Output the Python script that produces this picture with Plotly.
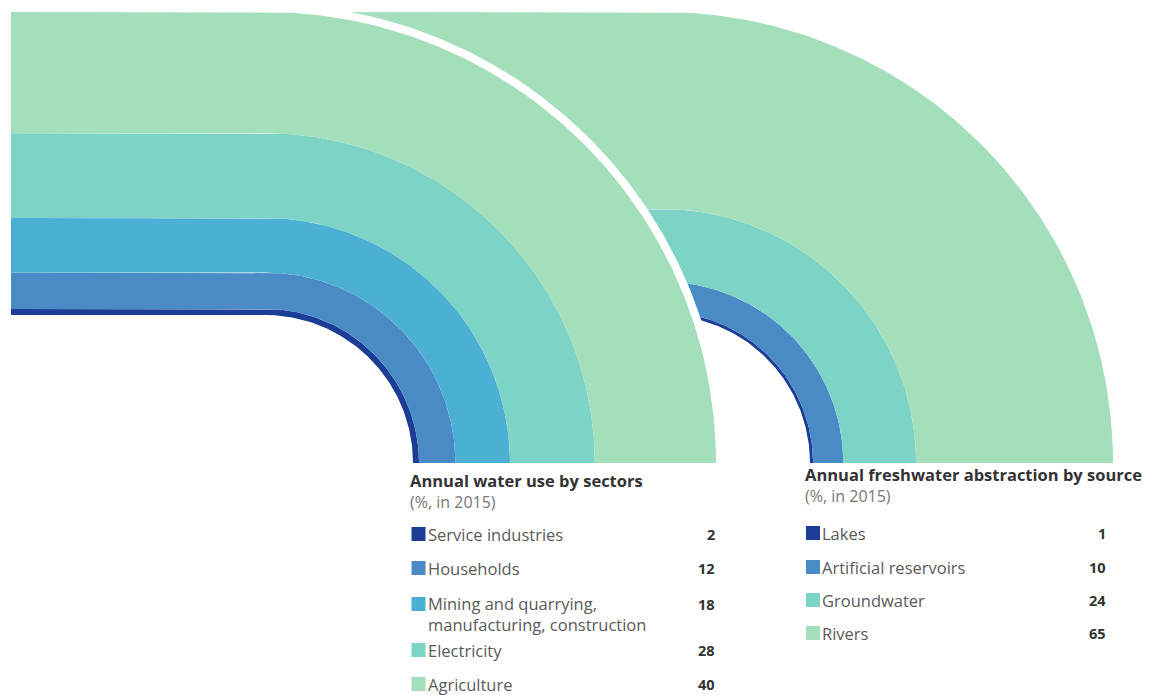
import numpy as np
import plotly.graph_objects as go

# ---------------- data ----------------
sector_labels = ["Service industries", "Households",
                 "Mining and quarrying,<br>manufacturing, construction",
                 "Electricity", "Agriculture"]
sector_values = [2, 12, 18, 28, 40]

source_labels = ["Lakes", "Artificial reservoirs", "Groundwater", "Rivers"]
source_values = [1, 10, 24, 65]

palette5 = ["#1c3d96", "#4a8bc6", "#4cafd4", "#7dd3c6", "#a3dfba"]
palette4 = ["#1c3d96", "#4a8bc6", "#7dd3c6", "#a3dfba"]

# ---------------- geometry (layout) ----------------
W, H = 1151, 695
CY = 463
R_IN = 148
BAND = 303          # pixels for 100 %
LEFT_CX = 265
RIGHT_CX = 662
LEFT_X0 = 11
GAP = 8


def band_polygon(cx, r1, r2, x0, n=120):
    th = np.linspace(np.pi / 2, 0, n)
    xs = [x0, cx]
    ys = [CY - r2, CY - r2]
    xs += list(cx + r2 * np.cos(th))
    ys += list(CY - r2 * np.sin(th))
    th2 = th[::-1]
    xs += list(cx + r1 * np.cos(th2))
    ys += list(CY - r1 * np.sin(th2))
    xs += [cx, x0, x0]
    ys += [CY - r1, CY - r1, CY - r2]
    return xs, ys


def add_ring(fig, cx, values, colors, x0):
    cum = np.cumsum([0] + list(values)) / 100.0
    for i, v in enumerate(values):
        r1 = R_IN + cum[i] * BAND
        r2 = R_IN + cum[i + 1] * BAND
        xs, ys = band_polygon(cx, r1, r2, x0)
        fig.add_trace(go.Scatter(x=xs, y=ys, mode="lines", fill="toself",
                                 fillcolor=colors[i], line=dict(width=0, color=colors[i]),
                                 hoverinfo="skip", showlegend=False))


fig = go.Figure()

# right ring (behind)
add_ring(fig, RIGHT_CX, source_values, palette4, LEFT_CX)

# white gap around left ring
xs, ys = band_polygon(LEFT_CX, R_IN - 2, R_IN + BAND + GAP, LEFT_X0)
fig.add_trace(go.Scatter(x=xs, y=ys, mode="lines", fill="toself", fillcolor="white",
                         line=dict(width=0, color="white"), hoverinfo="skip", showlegend=False))

# left ring (front)
add_ring(fig, LEFT_CX, sector_values, palette5, LEFT_X0)

# ---------------- legends ----------------
FONT = "Open Sans"
annotations = []


def legend_block(x_title, x_sq, x_txt, x_val, y_head, ys, labels, values, colors, title):
    head = ("<b>" + title + "</b><br>"
            "<span style='color:#777777;font-size:16px'>(%, in 2015)</span>")
    annotations.append(dict(x=x_title, y=y_head, text=head, showarrow=False,
                            xanchor="left", yanchor="middle", align="left",
                            font=dict(family=FONT, size=16.5, color="#333333")))
    for lab, val, yc in zip(labels, values, ys):
        nlines = lab.count("<br>") + 1
        ymid = yc + (nlines - 1) * 9.5
        annotations.append(dict(x=x_txt, y=ymid, text=lab, showarrow=False,
                                xanchor="left", yanchor="middle", align="left",
                                font=dict(family=FONT, size=16.5, color="#5a5a5a")))
        annotations.append(dict(x=x_val, y=yc, text="<b>" + str(val) + "</b>", showarrow=False,
                                xanchor="right", yanchor="middle",
                                font=dict(family=FONT, size=14.5, color="#333333")))
    fig.add_trace(go.Scatter(x=[x_sq] * len(ys), y=ys, mode="markers",
                             marker=dict(symbol="square", size=14, color=colors,
                                         line=dict(width=0)),
                             hoverinfo="skip", showlegend=False))


legend_block(408, 418.5, 426, 717, 490.5, [534, 568, 604, 650, 684],
             sector_labels, sector_values, palette5, "Annual water use by sectors")
legend_block(803, 813, 820, 1108, 484.5, [533, 567, 600, 633],
             source_labels, source_values, palette4, "Annual freshwater abstraction by source")

fig.update_layout(
    width=W, height=H, margin=dict(l=0, r=0, t=0, b=0),
    paper_bgcolor="white", plot_bgcolor="white",
    xaxis=dict(range=[0, W], visible=False, fixedrange=True),
    yaxis=dict(range=[H, 0], visible=False, fixedrange=True),
    annotations=annotations, showlegend=False,
)

fig.write_html("out.html")
